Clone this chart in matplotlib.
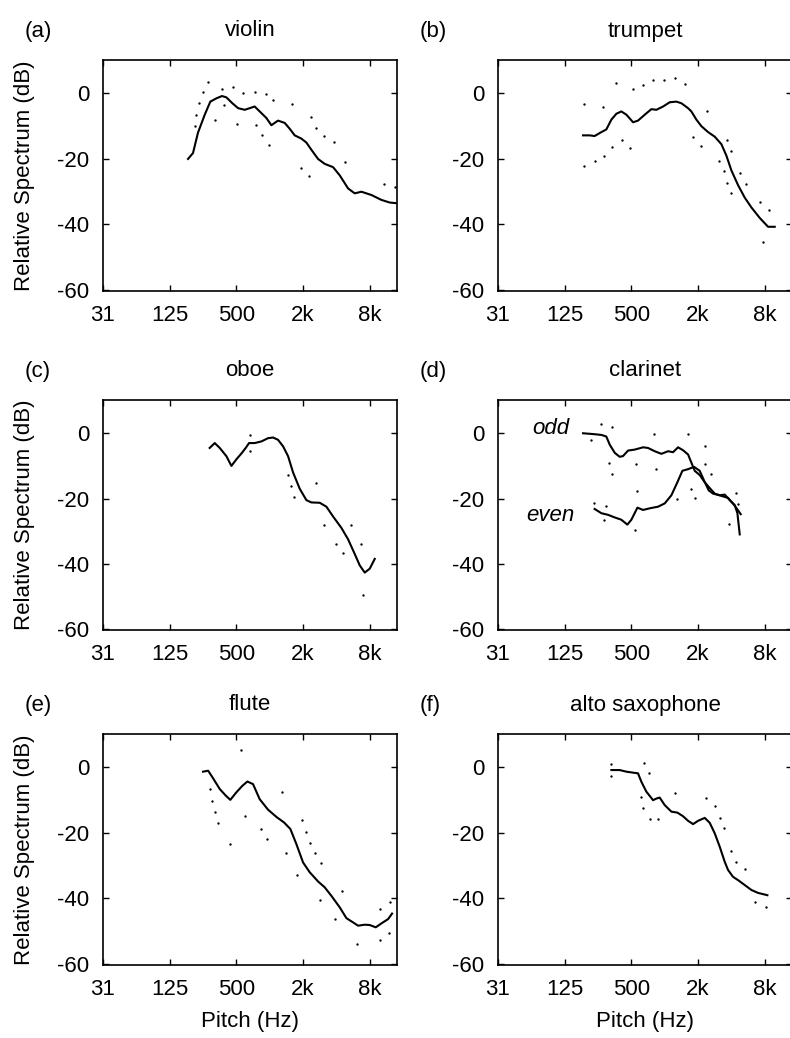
import matplotlib
matplotlib.use("Agg")
import matplotlib.pyplot as plt

plt.rcParams['font.family'] = ['Liberation Sans', 'DejaVu Sans']

# ---------------- data ----------------
xtick_vals = [31.25, 125, 500, 2000, 8000]
xtick_labels = ["31", "125", "500", "2k", "8k"]
ytick_vals = [0, -20, -40, -60]

# (a) violin
violin_f = [183, 203, 225, 259, 291, 330, 371, 406, 460, 518, 595, 660, 732, 812, 933,
            1035, 1189, 1366, 1516, 1682, 1932, 2144, 2378, 2732, 3138, 3732, 4287, 5100,
            5856, 6728, 8280, 10200, 12128, 13928]
violin_db = [-20, -18.2, -12, -6.5, -2.5, -1.5, -0.8, -1.2, -3, -4.5, -5, -4.5, -4, -5.5, -7.5,
             -9.7, -8.3, -9, -10.8, -12.8, -13.8, -15, -17.2, -20, -21.5, -22.5, -25, -29,
             -30.5, -30, -31, -32.5, -33.3, -33.5]
violin_dot_f = [210, 218, 230, 250, 279, 374, 467, 574, 732, 920, 1072, 1602, 2378, 2640,
                3074, 3784, 4756, 10700, 13456, 323, 390, 510, 758, 859, 980, 1905, 2266]
violin_dot_db = [-10, -6.5, -2.8, 0.3, 3.4, 1.2, 2, 0, 0.3, -0.3, -2, -3.2, -7.2, -10.5,
                 -13, -14.7, -21, -27.6, -28.5, -8.2, -3.5, -9.3, -9.6, -12.6, -15.7, -22.7, -25.1]

# (b) trumpet
trumpet_f = [183, 210, 233, 268, 297, 330, 366, 406, 451, 518, 574, 660, 758, 841, 966,
             1110, 1275, 1414, 1625, 1741, 1932, 2144, 2462, 2828, 3250, 3606, 4000, 4595,
             5278, 6063, 7211, 8574, 9849]
trumpet_db = [-12.8, -12.8, -13, -11.8, -11, -8, -6.2, -5.5, -6.5, -8.8, -8.3, -6.5, -4.8, -5, -4,
              -2.7, -2.5, -3, -4.5, -5.5, -8, -10, -11.8, -13.2, -15.5, -19, -23.5, -28,
              -31.8, -34.8, -38, -40.7, -40.7]
trumpet_dot_f = [187, 187, 233, 278, 283, 337, 361, 412, 483, 518, 638, 785, 980, 1231, 1516,
                 1790, 2114, 2412, 3096, 3435, 3681, 3681, 4000, 4000, 4823, 5388, 7311, 8754, 7727]
trumpet_dot_db = [-3.3, -22.2, -20.5, -4, -19, -16.5, 3.3, -14.3, -16.7, 1.2, 2.7, 4.2, 4.2, 4.7, 3,
                  -13.3, -16, -5.5, -20.7, -23.8, -14.2, -27.3, -17.5, -30.5, -24.2, -27.5, -33.2,
                  -35.6, -45.3]

# (c) oboe
oboe_f = [287, 319, 354, 406, 451, 500, 555, 607, 651, 732, 841, 966, 1072, 1189, 1320,
          1464, 1625, 1866, 2144, 2378, 2828, 3250, 3732, 4439, 5100, 5856, 6500, 7211, 8000, 8880]
oboe_db = [-4.5, -3, -4.5, -7, -10, -8, -6.2, -4.5, -3, -3, -2.5, -1.5, -1.3, -2, -4,
           -7, -12, -17, -20.5, -21.2, -21.3, -22.5, -25.5, -29, -32.5, -37, -40.5, -42.7, -41.5, -38.5]
oboe_dot_f = [660, 669, 1464, 1548, 1659, 2604, 3096, 3945, 4595, 5388, 6728, 6964]
oboe_dot_db = [-0.5, -5.3, -12.8, -16.2, -19.6, -15.2, -28, -34, -36.8, -28, -34, -49.5]

# (d) clarinet
clar_odd_f = [183, 218, 268, 297, 319, 354, 392, 420, 467, 536, 638, 707, 812, 933, 1072,
              1189, 1320, 1464, 1625, 1741, 1866, 2070, 2297, 2549, 2828, 3250, 3732, 4287, 4857]
clar_odd_db = [0, -0.2, -0.5, -1, -3.5, -6, -7.2, -7, -5.3, -5, -4.3, -4.5, -5.5, -6.3, -5.5,
               -5.8, -4.3, -5.2, -6.5, -9, -11.5, -12.8, -15, -16.8, -18.5, -19.2, -19.8, -22.2, -24.8]
clar_even_f = [233, 268, 308, 354, 406, 460, 500, 567, 638, 732, 871, 1000, 1149, 1302, 1444,
               1625, 1841, 2070, 2266, 2497, 2732, 3138, 3482, 3864, 4287, 4532, 4757]
clar_even_db = [-23.2, -24.5, -25, -25.8, -26.5, -28, -26.5, -22.8, -23.5, -23, -22.5, -21.5, -19,
                -15, -11.5, -11, -10.3, -11.5, -14.5, -17.5, -18.5, -19, -18.8, -20.5, -22, -24.5, -31]
clar_dot_f = [218, 230, 268, 283, 293, 314, 335, 335, 547, 567, 536, 796, 841, 1293, 1625,
              1741, 1892, 2330, 2297, 2604, 3784, 4439, 4595]
clar_dot_db = [-2, -21.5, 2.7, -26.7, -22.2, -9.2, 2, -12.5, -9.3, -17.8, -29.5, -0.1, -11, -20,
               -0.2, -17.2, -19.7, -3.8, -9.5, -12.5, -27.8, -18.2, -21.6]

# (e) flute
flute_f = [250, 278, 304, 354, 401, 441, 500, 567, 629, 707, 812, 966, 1149, 1347, 1537,
           1741, 2000, 2297, 2732, 3138, 3606, 4287, 4925, 5657, 6276, 7211, 8000, 9063,
           10200, 11712, 12728]
flute_db = [-1.3, -1, -3, -6.6, -8.6, -9.9, -7.6, -5.6, -4.3, -5.1, -9.7, -12.9, -15.1, -16.8, -18.8,
            -23.4, -29, -32, -34.8, -36.6, -39.2, -42.7, -46, -47.3, -48.3, -48, -48.1, -48.8,
            -47.6, -46.3, -44.6]
flute_dot_f = [287, 304, 321, 344, 435, 555, 595, 841, 946, 1302, 1414, 1778, 1959, 2144, 2330,
               2585, 2928, 2868, 3864, 4532, 6192, 9849, 9985, 11960, 12126]
flute_dot_db = [-6.6, -10.2, -13.5, -17.1, -23.4, 5.4, -14.8, -18.8, -21.9, -7.4, -26.2, -32.8,
                -16.1, -19.6, -23.1, -26.2, -29.3, -40.4, -46.3, -37.8, -53.9, -52.7, -43.2,
                -50.4, -41.2]

# (f) alto saxophone
sax_f = [330, 392, 451, 518, 574, 616, 683, 785, 841, 901, 1000, 1149, 1302, 1464, 1625,
         1803, 2000, 2297, 2549, 2828, 3138, 3482, 3732, 4141, 4595, 5278, 6063, 6964, 8453]
sax_db = [-0.8, -0.8, -1.3, -1.6, -1.8, -4.4, -7.4, -10, -9.5, -9.2, -11.5, -13.5, -13.8, -14.9,
          -16.3, -17.3, -16.3, -15.4, -16.9, -20.1, -24.2, -28.8, -31.3, -33.4, -34.4, -35.9,
          -37.4, -38.3, -39]
sax_dot_f = [325, 325, 607, 638, 651, 732, 717, 871, 1231, 2378, 2828, 3138, 3435, 3945, 4439,
             5278, 6500, 8167]
sax_dot_db = [1, -2.6, -9, -12.5, 1.4, -15.6, -1.8, -15.6, -7.7, -9.2, -11.8, -15.3, -18.6,
              -25.4, -28.8, -31.1, -41, -42.5]

panel_letters = ["(a)", "(b)", "(c)", "(d)", "(e)", "(f)"]
panel_titles = ["violin", "trumpet", "oboe", "clarinet", "flute", "alto saxophone"]

# ---------------- layout ----------------
W, H = 790, 1038
fig = plt.figure(figsize=(W / 100, H / 100), dpi=100)

col_left_px = [103, 498]
ax_w_px = 294
row_tops_px = [60, 400, 734]
row_bottoms_px = [291, 630, 965]

FS = 16
axes = []
for r in range(3):
    for c in range(2):
        l = col_left_px[c] / W
        b = 1 - row_bottoms_px[r] / H
        h = (row_bottoms_px[r] - row_tops_px[r]) / H
        ax = fig.add_axes([l, b, ax_w_px / W, h])
        axes.append(ax)

series = [
    [(violin_f, violin_db)],
    [(trumpet_f, trumpet_db)],
    [(oboe_f, oboe_db)],
    [(clar_odd_f, clar_odd_db), (clar_even_f, clar_even_db)],
    [(flute_f, flute_db)],
    [(sax_f, sax_db)],
]
dots = [
    (violin_dot_f, violin_dot_db),
    (trumpet_dot_f, trumpet_dot_db),
    (oboe_dot_f, oboe_dot_db),
    (clar_dot_f, clar_dot_db),
    (flute_dot_f, flute_dot_db),
    (sax_dot_f, sax_dot_db),
]

for i, ax in enumerate(axes):
    r, c = divmod(i, 2)
    for f, db in series[i]:
        ax.plot(f, db, color='black', lw=1.5, solid_joinstyle='round')
    df, ddb = dots[i]
    ax.plot(df, ddb, ls='none', marker='o', ms=1.7, mec='black', mfc='black', mew=0)
    ax.set_xscale('log')
    ax.set_xlim(31.25, 14100)
    ax.set_ylim(-60.3, 10.2)
    ax.set_xticks(xtick_vals)
    ax.set_xticklabels(xtick_labels)
    ax.set_yticks(ytick_vals)
    ax.set_yticklabels([str(v) for v in ytick_vals])
    ax.minorticks_off()
    ax.tick_params(direction='in', length=4, width=1, top=True, right=True,
                   labelsize=FS, pad=10)
    for s in ax.spines.values():
        s.set_linewidth(1.2)
    # titles
    ax_l_px = col_left_px[c]
    cx = (ax_l_px + ax_w_px / 2) / W
    ty = 1 - (row_tops_px[r] - 29) / H
    fig.text(cx, ty, panel_titles[i], ha='center', va='center', fontsize=FS)
    fig.text((ax_l_px - 78) / W, ty, panel_letters[i], ha='left', va='center', fontsize=FS)
    if c == 0:
        yc = 1 - (row_tops_px[r] + row_bottoms_px[r]) / 2 / H
        fig.text(25 / W, yc, "Relative Spectrum (dB)", rotation=90,
                 ha='center', va='center', fontsize=FS)
    if r == 2:
        fig.text(cx, 1 - 1022 / H, "Pitch (Hz)", ha='center', va='center', fontsize=FS)

axes[3].text(94, 1.5, "odd", style='italic', fontsize=FS, ha='center', va='center')
axes[3].text(92, -25.2, "even", style='italic', fontsize=FS, ha='center', va='center')

fig.savefig("out.png", dpi=100)
